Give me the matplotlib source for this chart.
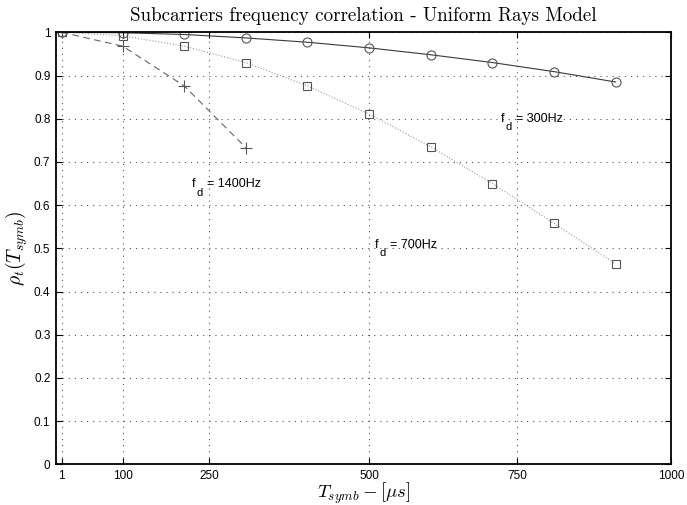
import matplotlib
matplotlib.use("Agg")
import matplotlib.pyplot as plt

# symbol time samples (us) and correlation for each Doppler spread
t_symb = [1, 100, 200, 300, 400, 500, 600, 700, 800, 900]
rho_300 = [1.0, 0.999, 0.995, 0.987, 0.977, 0.964, 0.948, 0.930, 0.909, 0.885]
rho_700 = [1.0, 0.992, 0.968, 0.930, 0.876, 0.811, 0.735, 0.650, 0.558, 0.464]
t_1400 = [1, 100, 200, 300]
rho_1400 = [1.0, 0.968, 0.876, 0.733]

xtick_pos = [1, 100, 240, 500, 740, 990]
xtick_labels = ["1", "100", "250", "500", "750", "1000"]
yticks = [0, 0.1, 0.2, 0.3, 0.4, 0.5, 0.6, 0.7, 0.8, 0.9, 1]
ytick_labels = ["0", "0.1", "0.2", "0.3", "0.4", "0.5", "0.6", "0.7", "0.8", "0.9", "1"]

# curve labels: doppler value and where the text sits
doppler = ["300Hz", "1400Hz", "700Hz"]
label_x = [714, 213, 510]
label_y = [0.792, 0.641, 0.501]

plt.rcParams["font.family"] = ["Liberation Sans", "DejaVu Sans"]

fig = plt.figure(figsize=(6.87, 5.05), dpi=100)
ax = fig.add_axes([56 / 687, 1 - 464.3 / 505, 615 / 687, 432 / 505])

ax.plot(t_symb, rho_300, "-", color="#3a3a3a", lw=0.8, marker="o", ms=6.5,
        mfc="none", mec="#555555", mew=0.8)
ax.plot(t_symb, rho_700, ":", color="#999999", lw=0.8, marker="s", ms=5.5,
        mfc="none", mec="#555555", mew=0.8)
ax.plot(t_1400, rho_1400, color="#666666", lw=0.8, dashes=(6, 4), marker="+",
        ms=8, mec="#555555", mew=0.8)

ax.set_xlim(-8, 990)
ax.set_ylim(0, 1)
ax.set_xticks(xtick_pos)
ax.set_xticklabels(xtick_labels)
ax.set_yticks(yticks)
ax.set_yticklabels(ytick_labels)
ax.tick_params(direction="in", length=4, width=0.8, top=True, right=True,
               labelsize=8.5, pad=4)
for s in ax.spines.values():
    s.set_linewidth(1.3)

ax.grid(True, color="#555555", lw=0.8, linestyle=(0, (1, 4.5)))

ax.set_title("Subcarriers frequency correlation - Uniform Rays Model",
             family="cmr10", fontsize=13.7, pad=8)
ax.set_xlabel(r"$T_{symb} - [\mu s]$", math_fontfamily="cm", fontsize=13.5, labelpad=-1)
ax.set_ylabel(r"$\rho_t(T_{symb})$", math_fontfamily="cm", fontsize=14, labelpad=3)

# f_d labels, subscript drawn lower like the tex interpreter does
for xpos, ypos, label in zip(label_x, label_y, doppler):
    ax.annotate("f", (xpos, ypos), fontsize=9, va="baseline")
    ax.annotate("d", (xpos, ypos), xytext=(3.2, -6), textcoords="offset points",
                fontsize=8, va="baseline")
    ax.annotate("= " + label, (xpos, ypos), xytext=(10.5, 0), textcoords="offset points",
                fontsize=9, va="baseline")

fig.savefig("out.png", dpi=100)
